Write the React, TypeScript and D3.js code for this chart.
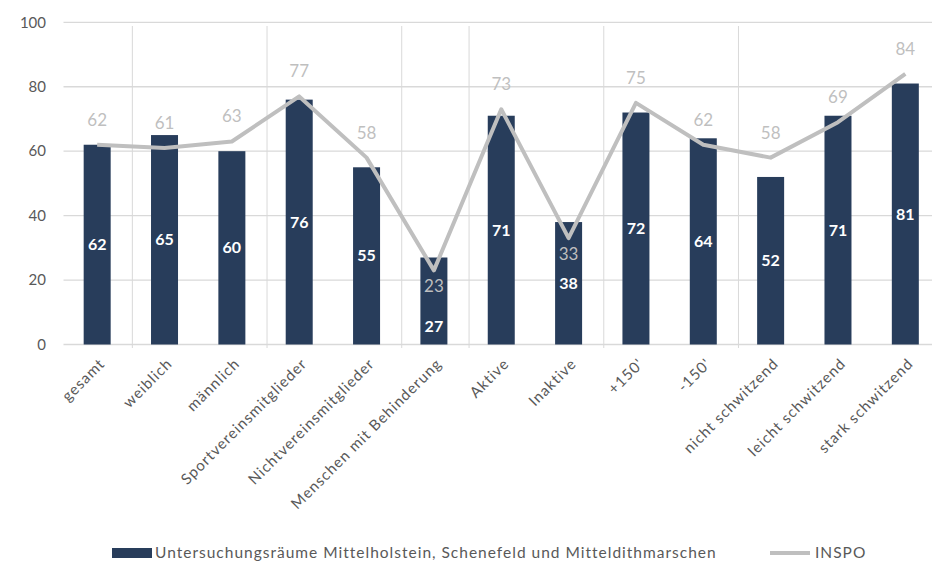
import React from "react";
import * as d3 from "d3";

const categories = [
  "gesamt",
  "weiblich",
  "männlich",
  "Sportvereinsmitglieder",
  "Nichtvereinsmitglieder",
  "Menschen mit Behinderung",
  "Aktive",
  "Inaktive",
  "+150'",
  "-150'",
  "nicht schwitzend",
  "leicht schwitzend",
  "stark schwitzend",
];
const barValues = [62, 65, 60, 76, 55, 27, 71, 38, 72, 64, 52, 71, 81];
const lineValues = [62, 61, 63, 77, 58, 23, 73, 33, 75, 62, 58, 69, 84];
const yTicks = [0, 20, 40, 60, 80, 100];
// category boundaries (after index) where vertical grid lines are drawn
const vGridAfter = [0, 2, 4, 5, 7, 9];
const barSeriesName = "Untersuchungsräume Mittelholstein, Schenefeld und Mitteldithmarschen";
const lineSeriesName = "INSPO";

const W = 932;
const H = 565;
const FONT = "Lato, 'Open Sans', sans-serif";
const BAR_COLOR = "#283d5b";
const LINE_COLOR = "#bfbfbf";
const AXIS_TEXT = "#595959";
const GRID = "#d9d9d9";

export default function App() {
  const x = d3.scaleBand<string>().domain(categories).range([63.5, 939]).paddingInner(0).paddingOuter(0);
  const y = d3.scaleLinear().domain([0, 100]).range([344.5, 22.3]);
  const bw = 27;
  const cx = (c: string) => (x(c) as number) + x.bandwidth() / 2;
  const line = d3
    .line<number>()
    .x((_, i) => cx(categories[i]))
    .y((d) => y(d));

  return (
    <svg width={W} height={H} style={{ display: "block", position: "absolute", left: 0, top: 0 }} fontFamily={FONT}>
      <rect width={W} height={H} fill="#fff" />
      {yTicks.map((t) => (
        <g key={t}>
          <line x1={63.5} x2={W} y1={y(t)} y2={y(t)} stroke={GRID} strokeWidth={1.3} />
          <text x={46} y={y(t)} dy="0.35em" textAnchor="end" fontSize={15} fill={AXIS_TEXT}>
            {t}
          </text>
        </g>
      ))}
      {vGridAfter.map((i) => {
        const xx = (x(categories[i]) as number) + x.bandwidth() + 1.5;
        return <line key={i} x1={xx} x2={xx} y1={26} y2={348} stroke={GRID} strokeWidth={1} />;
      })}
      {categories.map((c, i) => (
        <rect key={c} x={cx(c) - bw / 2} y={y(barValues[i])} width={bw} height={y(0) - y(barValues[i])} fill={BAR_COLOR} />
      ))}
      <path d={line(lineValues) as string} fill="none" stroke={LINE_COLOR} strokeWidth={4} strokeLinejoin="round" />
      {categories.map((c, i) => {
        const below = lineValues[i] < 40;
        const ly = below ? y(lineValues[i]) + 16 : y(lineValues[i]) - 25;
        return (
          <text key={c} x={cx(c)} y={ly} dy="0.35em" textAnchor="middle" fontSize={17} fill={LINE_COLOR}>
            {lineValues[i]}
          </text>
        );
      })}
      {categories.map((c, i) => {
        const mid = (y(barValues[i]) + y(0)) / 2;
        const lineLabelY = lineValues[i] < 40 ? y(lineValues[i]) + 16 : y(lineValues[i]) - 25;
        const by = Math.abs(mid - lineLabelY) < 20 ? y(0) - 18 : mid;
        return (
          <text key={c} x={cx(c)} y={by} dy="0.35em" textAnchor="middle" fontSize={16} fontWeight="bold" fill="#fff">
            {barValues[i]}
          </text>
        );
      })}
      {categories.map((c) => (
        <text
          key={c}
          transform={`translate(${cx(c) + 5},${361}) rotate(-45)`}
          textAnchor="end"
          fontSize={15}
          letterSpacing={1}
          fill={AXIS_TEXT}
          dy="0.35em"
        >
          {c}
        </text>
      ))}
      <rect x={112} y={548} width={40} height={10} fill={BAR_COLOR} />
      <text x={155} y={553} dy="0.35em" fontSize={15.5} letterSpacing={1} fill={AXIS_TEXT}>
        {barSeriesName}
      </text>
      <line x1={770} x2={810} y1={553} y2={553} stroke={LINE_COLOR} strokeWidth={4} />
      <text x={815} y={553} dy="0.35em" fontSize={15.5} letterSpacing={1} fill={AXIS_TEXT}>
        {lineSeriesName}
      </text>
    </svg>
  );
}
